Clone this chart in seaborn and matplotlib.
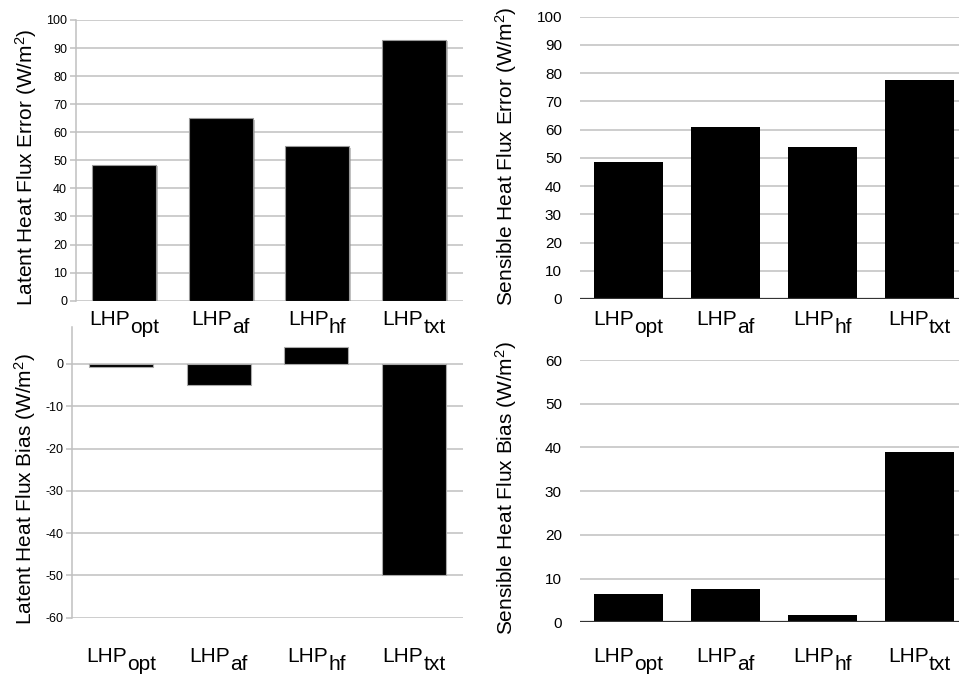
import numpy as np
import pandas as pd
import matplotlib
matplotlib.use("Agg")
import matplotlib.pyplot as plt
import matplotlib.patheffects as pe
import matplotlib.transforms as mtrans
import seaborn as sns

# ---- data ----
prefix = "LHP"
categories = ["opt", "af", "hf", "txt"]
latent_error = [48.5, 65.0, 55.0, 93.0]
sensible_error = [48.6, 60.8, 53.7, 77.7]
latent_bias = [-0.8, -5.1, 3.9, -50.0]
sensible_bias = [6.4, 7.7, 1.7, 38.9]

ylabel_le = "Latent Heat Flux Error (W/m$^{\\mathregular{2}}$)"
ylabel_se = "Sensible Heat Flux Error (W/m$^{\\mathregular{2}}$)"
ylabel_lb = "Latent Heat Flux Bias (W/m$^{\\mathregular{2}}$)"
ylabel_sb = "Sensible Heat Flux Bias (W/m$^{\\mathregular{2}}$)"

sns.set_theme(style="white")
plt.rcParams['font.family'] = ['Liberation Sans', 'DejaVu Sans']
plt.rcParams['mathtext.fontset'] = 'custom'
plt.rcParams['mathtext.rm'] = 'Liberation Sans'
plt.rcParams['mathtext.it'] = 'Liberation Sans'

W, H = 959, 675
fig = plt.figure(figsize=(W / 100, H / 100), dpi=100)
fig.patch.set_facecolor('white')

GRID = '#c0c0c0'


def px_axes(left, right, top, bottom):
    return fig.add_axes([left / W, 1 - bottom / H, (right - left) / W, (bottom - top) / H])


def draw(ax, values, ylim, ticks, ylabel, width, left_style, tick_fs,
         label_xy, edge=None, shadow=False):
    df = pd.DataFrame({"cat": categories, "val": values})
    sns.barplot(data=df, x="cat", y="val", color="black", width=width,
                saturation=1, ax=ax, edgecolor=edge if edge else "black",
                linewidth=0.8 if edge else 0)
    if shadow:
        for p in ax.patches:
            p.set_path_effects([pe.SimplePatchShadow(offset=(1.5, -1.0), shadow_rgbFace='#888888', alpha=0.5),
                                pe.Normal()])
    ax.set_xlim(-0.5, 3.5)
    ax.set_ylim(*ylim)
    ax.set_yticks(ticks)
    ax.set_yticklabels([str(t) for t in ticks])
    ax.set_axisbelow(True)
    ax.yaxis.grid(True, color=GRID, linewidth=1.1)
    ax.xaxis.grid(False)
    for s in ['top', 'right']:
        ax.spines[s].set_visible(False)
    ax.patch.set_visible(False)
    if left_style:
        ax.spines['left'].set_color(GRID)
        ax.spines['left'].set_linewidth(1.1)
        ax.spines['bottom'].set_visible(False)
        ax.tick_params(axis='y', length=4, color=GRID, width=1.1, pad=2,
                       labelsize=tick_fs, labelcolor='black', left=True)
    else:
        ax.spines['left'].set_visible(False)
        ax.spines['bottom'].set_visible(False)
        ax.axhline(0, color='#333333', linewidth=1.6, zorder=3)
        ax.tick_params(axis='y', length=0, pad=13, labelsize=tick_fs, labelcolor='black')
    ax.tick_params(axis='x', length=0, labelbottom=False)
    ax.set_xlabel("")
    ax.set_ylabel(ylabel, fontsize=15, color='black')
    ax.yaxis.set_label_coords(*label_xy)


# top-left
ax1 = px_axes(75.5, 462.5, 20, 300.7)
draw(ax1, latent_error, (0, 100), list(range(0, 101, 10)), ylabel_le, 0.66, True, 9,
     (-0.095, 0.476), edge='#999999', shadow=True)

# top-right
ax2 = px_axes(580, 968, 16.7, 299)
draw(ax2, sensible_error, (0, 100), list(range(0, 101, 10)), ylabel_se, 0.71, False, 11,
     (-0.158, 0.507))

# bottom-left
ax3 = px_axes(72, 463, 326.7, 617.7)
draw(ax3, latent_bias, (-60, 8.8), list(range(-60, 1, 10)), ylabel_lb, 0.655, True, 9,
     (-0.087, 0.441), edge='#aaaaaa')

# bottom-right
ax4 = px_axes(580, 968, 360, 622.3)
draw(ax4, sensible_bias, (0, 60), list(range(0, 61, 10)), ylabel_sb, 0.71, False, 11,
     (-0.158, 0.512))

# category labels with full-size subscripts
fig.canvas.draw()
renderer = fig.canvas.get_renderer()
for ax, base_px in [(ax1, 24.5), (ax2, 26), (ax3, 44), (ax4, 39.4)]:
    blend = mtrans.blended_transform_factory(ax.transData, ax.transAxes)
    for i, sub in enumerate(categories):
        t1 = ax.text(i, 0, prefix, transform=blend, ha='left', va='baseline',
                     fontsize=15, color='black', clip_on=False, zorder=10)
        t2 = ax.text(i, 0, sub, transform=blend, ha='left', va='baseline',
                     fontsize=15, color='black', clip_on=False, zorder=10)
        w1 = t1.get_window_extent(renderer).width
        w2 = t2.get_window_extent(renderer).width
        total = w1 + w2
        t1.set_transform(mtrans.offset_copy(blend, fig=fig, x=-total / 2, y=-base_px, units='dots'))
        t2.set_transform(mtrans.offset_copy(blend, fig=fig, x=-total / 2 + w1, y=-base_px - 8, units='dots'))

fig.savefig("out.png", dpi=100, facecolor='white')
